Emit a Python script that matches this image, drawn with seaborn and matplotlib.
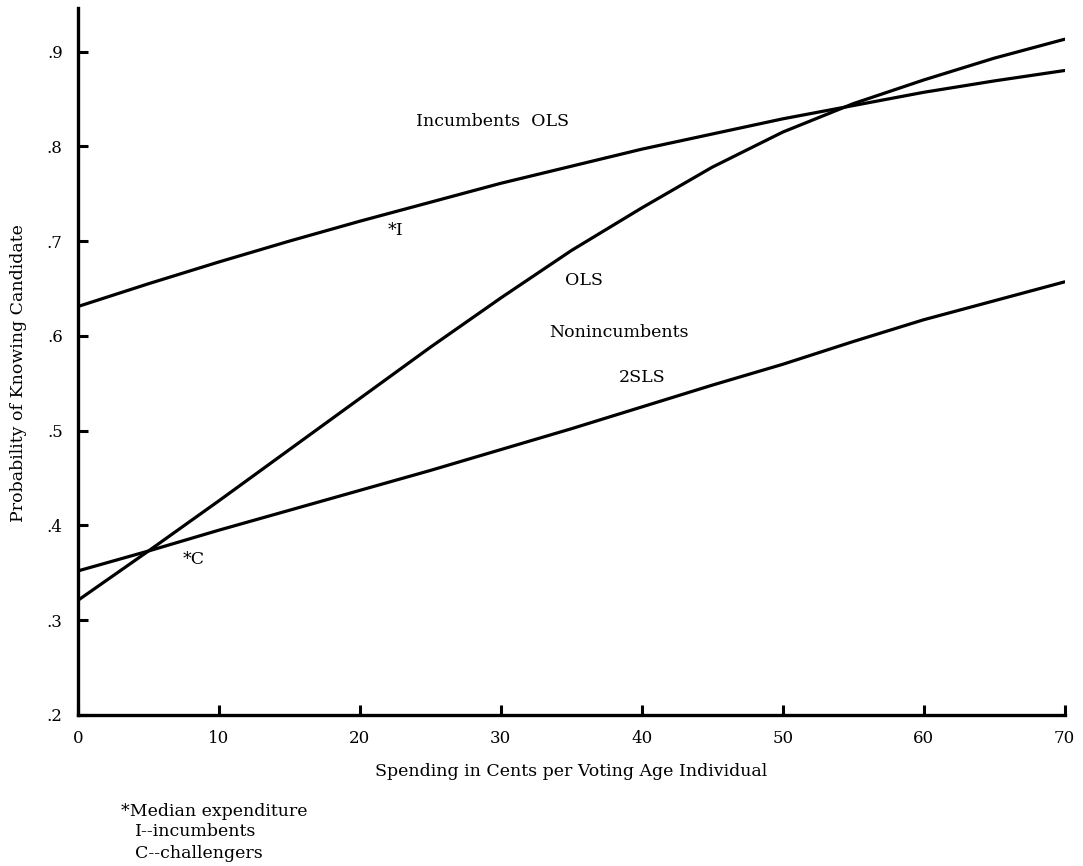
import matplotlib
matplotlib.use("Agg")
import matplotlib.pyplot as plt
import seaborn as sns
import pandas as pd

# Spending levels (cents per voting-age individual)
spending = [0, 5, 10, 15, 20, 25, 30, 35, 40, 45, 50, 55, 60, 65, 70]

# Estimated probability of knowing the candidate
incumbents_ols = [0.631, 0.655, 0.678, 0.700, 0.721, 0.741, 0.761, 0.779,
                  0.797, 0.813, 0.829, 0.843, 0.857, 0.869, 0.880]
nonincumbents_ols = [0.321, 0.373, 0.426, 0.480, 0.534, 0.588, 0.640, 0.690,
                     0.735, 0.778, 0.815, 0.845, 0.870, 0.893, 0.913]
nonincumbents_2sls = [0.352, 0.373, 0.395, 0.416, 0.437, 0.458, 0.480, 0.502,
                      0.525, 0.548, 0.570, 0.594, 0.617, 0.637, 0.657]

x_ticks = [0, 10, 20, 30, 40, 50, 60, 70]
y_ticks = [0.2, 0.3, 0.4, 0.5, 0.6, 0.7, 0.8, 0.9]
y_tick_labels = [".2", ".3", ".4", ".5", ".6", ".7", ".8", ".9"]

df = pd.DataFrame({
    "spending": spending * 3,
    "prob": incumbents_ols + nonincumbents_ols + nonincumbents_2sls,
    "series": (["Incumbents OLS"] * len(spending)
               + ["Nonincumbents OLS"] * len(spending)
               + ["Nonincumbents 2SLS"] * len(spending)),
})

sns.set_theme(style="ticks")
plt.rcParams["font.family"] = ["DejaVu Serif", "Liberation Serif"]
plt.rcParams["text.color"] = "black"
plt.rcParams["axes.labelcolor"] = "black"

fig = plt.figure(figsize=(10.83, 8.66), dpi=100)
ax = fig.add_axes([0.072, 0.1744, 0.911, 0.8164])

sns.lineplot(data=df, x="spending", y="prob", units="series", estimator=None,
             color="black", linewidth=2.3, ax=ax)

ax.set_xlim(0, 70)
ax.set_ylim(0.2, 0.946)
ax.set_xticks(x_ticks)
ax.set_xticklabels([str(t) for t in x_ticks])
ax.set_yticks(y_ticks)
ax.set_yticklabels(y_tick_labels)

for side in ("top", "right"):
    ax.spines[side].set_visible(False)
for side in ("left", "bottom"):
    ax.spines[side].set_linewidth(2.4)
    ax.spines[side].set_color("black")

ax.tick_params(axis="both", direction="in", length=7, width=2.2,
               labelsize=12, colors="black")
ax.tick_params(axis="x", pad=11)
ax.tick_params(axis="y", pad=11)

ax.set_xlabel("Spending in Cents per Voting Age Individual", fontsize=12.5,
              labelpad=11)
ax.set_ylabel("Probability of Knowing Candidate", fontsize=12.5, labelpad=14,
              y=0.483)

# Curve annotations
fs = 12.5
ax.text(29.4, 0.826, "Incumbents  OLS", fontsize=fs, ha="center", va="center")
ax.text(22.0, 0.711, "*I", fontsize=fs, ha="left", va="center")
ax.text(35.9, 0.658, "OLS", fontsize=fs, ha="center", va="center")
ax.text(38.4, 0.604, "Nonincumbents", fontsize=fs, ha="center", va="center")
ax.text(40.0, 0.556, "2SLS", fontsize=fs, ha="center", va="center")
ax.text(7.4, 0.364, "*C", fontsize=fs, ha="left", va="center")

# Footnote
fig.text(0.112, 1 - 811 / 866, "*Median expenditure", fontsize=12.5,
         ha="left", va="center")
fig.text(0.125, 1 - 832 / 866, "I--incumbents", fontsize=12.5,
         ha="left", va="center")
fig.text(0.125, 1 - 853 / 866, "C--challengers", fontsize=12.5,
         ha="left", va="center")

fig.savefig("out.png", dpi=100, facecolor="white")
